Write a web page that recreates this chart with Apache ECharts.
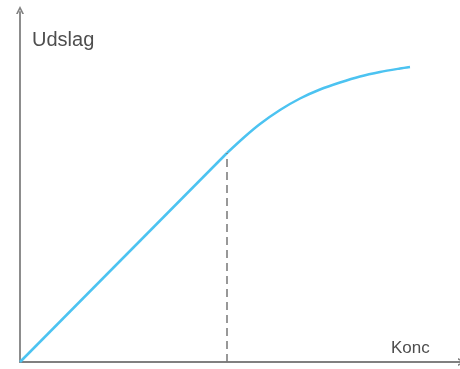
<!DOCTYPE html>
<html>
<head>
<meta charset="utf-8">
<script src="https://cdn.jsdelivr.net/npm/echarts@6/dist/echarts.min.js"></script>
<style>
  html, body { margin: 0; padding: 0; background: #fff; }
  #chart { width: 460px; height: 369px; }
</style>
</head>
<body>
<div id="chart"></div>
<script>
// Calibration curve: linear response up to the break point, then flattening
const linKonc = [0, 207];
const linUdslag = [0, 209];
const curveKonc = [207, 225, 240, 260, 280, 300, 320, 340, 360, 380, 390];
const curveUdslag = [209, 225.5, 238, 252, 263.5, 272.5, 279.5, 285.5, 290, 293.5, 295];
const breakKonc = 207;
const breakUdslag = 209;

// Open chevron used as the arrow head on both axes
const chevronUp = 'path://M0,10 L5,0 L10,10 L7.8,10 L5,4.4 L2.2,10 Z';

const axisCommon = {
  type: 'value',
  axisLine: {
    show: true,
    lineStyle: { color: '#808080', width: 1.8 },
    symbol: ['none', chevronUp], symbolSize: [13, 8], symbolOffset: [0, 2]
  },
  axisTick: { show: false }, axisLabel: { show: false }, splitLine: { show: false }
};

const lineStyle = { color: '#4cc3f1', width: 2.5 };

const chart = echarts.init(document.getElementById('chart'));
chart.setOption({
  animation: false,
  grid: { left: 20, right: 0, top: 12, bottom: 7 },
  xAxis: Object.assign({ min: 0, max: 440 }, axisCommon),
  yAxis: Object.assign({ min: 0, max: 350 }, axisCommon),
  graphic: [
    { type: 'text', left: 32, top: 30,
      style: { text: 'Udslag', fontFamily: 'Liberation Sans, Arial, sans-serif', fontSize: 20, fill: '#4e4e4e' } },
    { type: 'text', left: 391, top: 340,
      style: { text: 'Konc', fontFamily: 'Liberation Sans, Arial, sans-serif', fontSize: 17, fill: '#4e4e4e' } }
  ],
  series: [
    {
      type: 'line',
      data: linKonc.map((k, i) => [k, linUdslag[i]]),
      showSymbol: false,
      lineStyle: lineStyle,
      markLine: {
        silent: true,
        symbol: 'none',
        label: { show: false },
        lineStyle: { color: '#777', width: 1.5, type: [8, 5] },
        data: [[{ coord: [breakKonc, 0] }, { coord: [breakKonc, breakUdslag] }]]
      }
    },
    {
      type: 'line',
      data: curveKonc.map((k, i) => [k, curveUdslag[i]]),
      smooth: 0.3,
      showSymbol: false,
      lineStyle: lineStyle
    }
  ]
});
</script>
</body>
</html>
